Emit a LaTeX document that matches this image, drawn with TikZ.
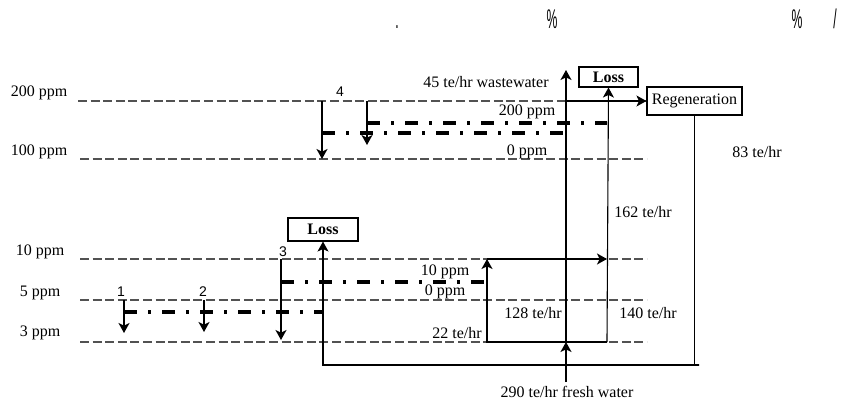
\documentclass[tikz,border=0pt]{standalone}
\usepackage{fontspec}
\setmainfont{Liberation Serif}
\newfontfamily\numfont{Liberation Sans}
\usetikzlibrary{arrows.meta}

\begin{document}
\begin{tikzpicture}[x=0.5pt,y=-0.5pt]

\tikzset{level/.style = {draw=black!68, line width=0.75pt, dash pattern=on 4.5pt off 1.8pt}}
\tikzset{oper/.style = {line width=1.6pt, dash pattern=on 6.5pt off 5.5pt on 1.5pt off 5.5pt}}
\tikzset{flow/.style = {line width=0.55pt, -{Stealth[length=5pt,width=5.5pt,inset=1.3pt]}}}
\tikzset{unitbox/.style = {draw, line width=0.55pt, inner sep=0pt, font=\fontsize{8}{9}\selectfont}}
\tikzset{lbl/.style = {inner sep=0pt, font=\fontsize{8}{9}\selectfont}}
\tikzset{num/.style = {inner sep=0pt, font=\numfont\fontsize{7}{8}\selectfont}}
\tikzset{glyph/.style = {inner sep=0pt, anchor=base, font=\numfont\fontsize{13.5}{14}\selectfont}}

\useasboundingbox (0,0) rectangle (843,403);

% stray marks
\node[glyph] (m1) at (397,28) {\scalebox{0.45}[1]{.}};
\node[glyph] (m2) at (552,28) {\scalebox{0.45}[1]{\%}};
\node[glyph] (m3) at (797,28) {\scalebox{0.45}[1]{\%}};
\node[glyph] (m4) at (835,28) {\scalebox{0.45}[1]{/}};

% concentration levels
\node[lbl] (p200) at (39,93) {200 ppm};
\node[lbl] (p100) at (39,152) {100 ppm};
\node[lbl] (p10) at (40,252) {10 ppm};
\node[lbl] (p5) at (40,293) {5 ppm};
\node[lbl] (p3) at (40,333) {3 ppm};
\coordinate (a200) at (78,101);  \coordinate (b200) at (646,101);
\coordinate (a100) at (80,159);  \coordinate (b100) at (647,159);
\coordinate (a10) at (80,259);   \coordinate (b10) at (647,259);
\coordinate (a5) at (80,300);    \coordinate (b5) at (647,300);
\coordinate (a3) at (80,342);    \coordinate (b3) at (647,342);
\draw[level] (a200) -- (b200);
\draw[level] (a100) -- (b100);
\draw[level] (a10) -- (b10);
\draw[level] (a5) -- (b5);
\draw[level] (a3) -- (b3);

% units
\node[unitbox, minimum width=47.5pt, minimum height=14pt] (regen) at (694.5,101) {Regeneration};
\node[unitbox, minimum width=35pt, minimum height=11.5pt, font=\fontsize{8}{9}\selectfont\bfseries] (lossA) at (323,229.5) {Loss};
\node[unitbox, minimum width=29.5pt, minimum height=10pt, font=\fontsize{8}{9}\selectfont\bfseries] (lossB) at (608.5,77) {Loss};

% operations
\node[num] (n1) at (121,292) {1};
\node[num] (n2) at (203,292) {2};
\node[num] (n3) at (283,252) {3};
\node[num] (n4) at (340,92) {4};
\coordinate (o1s) at (124,300);  \coordinate (o1e) at (124,333);
\coordinate (o2s) at (204,300);  \coordinate (o2e) at (204,332);
\coordinate (o3s) at (281,259);  \coordinate (o3e) at (281,340);
\coordinate (o4s) at (322,101);  \coordinate (o4e) at (322,159);
\coordinate (o5s) at (367,101);  \coordinate (o5e) at (367,145);
\draw[flow] (o1s) -- (o1e);
\draw[flow] (o2s) -- (o2e);
\draw[flow] (o3s) -- (o3e);
\draw[flow] (o4s) -- (o4e);
\draw[flow] (o5s) -- (o5e);
\coordinate (d1s) at (124,312);  \coordinate (d1e) at (322,312);
\coordinate (d2s) at (281,282);  \coordinate (d2e) at (486,282);
\coordinate (d3s) at (322,133);  \coordinate (d3e) at (566,133);
\coordinate (d4s) at (367,123);  \coordinate (d4e) at (607,123);
\draw[oper] (d1s) -- (d1e);
\draw[oper] (d2s) -- (d2e);
\draw[oper] (d3s) -- (d3e);
\draw[oper] (d4s) -- (d4e);

% water mains
\coordinate (fw) at (566,382);
\coordinate (fw3) at (566,342);
\coordinate (ww) at (566,70);
\coordinate (w200) at (566,101);
\coordinate (r3) at (607,342);
\coordinate (l3) at (487,342);
\coordinate (l10) at (487,259);
\coordinate (r10) at (607,259);
\coordinate (rg) at (699,365);
\coordinate (ls) at (323,365);
\draw[flow] (fw) -- (fw3);
\draw[flow] (fw3) -- (ww);
\draw[flow] (r3) -- (l3) -- (l10);
\draw[flow] (l10) -- (r10);
\draw[flow] (r3) -- (lossB.south);
\draw[flow] (w200) -- (regen.west);
\draw[flow] (regen.south) |- (rg) -- (ls) -- (lossA.south);

% flow labels
\node[lbl, anchor=east] (t45) at (549,82) {45 te/hr wastewater};
\node[lbl] (t200) at (527,112) {200 ppm};
\node[lbl] (t0a) at (527,152) {0 ppm};
\node[lbl] (t83) at (757,152) {83 te/hr};
\node[lbl] (t162) at (643,212) {162 te/hr};
\node[lbl] (t10) at (445,272) {10 ppm};
\node[lbl] (t0b) at (445,292) {0 ppm};
\node[lbl] (t128) at (533,313) {128 te/hr};
\node[lbl] (t140) at (648,313) {140 te/hr};
\node[lbl] (t22) at (457,333) {22 te/hr};
\node[lbl] (t290) at (567,392) {290 te/hr fresh water};
\end{tikzpicture}
\end{document}
